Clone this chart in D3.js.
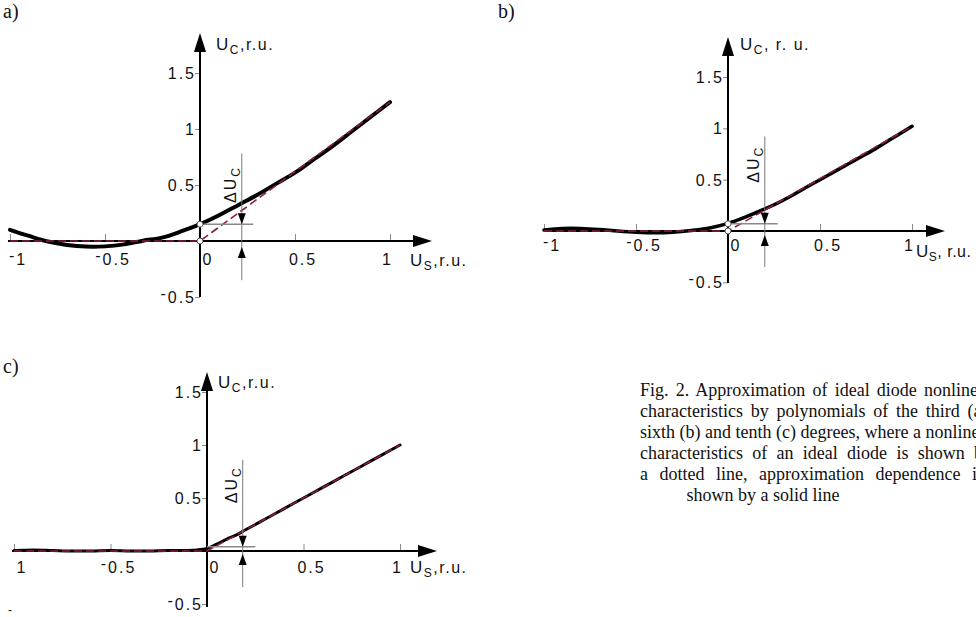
<!DOCTYPE html>
<html>
<head>
<meta charset="utf-8">
<script src="https://cdn.jsdelivr.net/npm/d3@7.9.0/dist/d3.min.js"></script>
<style>
  html, body { margin: 0; padding: 0; background: #fff; overflow: hidden; }
  svg { display: block; }
  .lbl { font-family: Arial, "Liberation Sans", sans-serif; font-size: 16px; letter-spacing: 2px; fill: #111; }
  .panel-name, .caption { font-family: "Times New Roman", "Liberation Serif", serif; fill: #111; }
</style>
</head>
<body>
<svg id="fig" width="976" height="617"></svg>
<script>
// ticks shared by the three panels
const xTicks = [-1, -0.5, 0, 0.5, 1];
const yTicks = [-0.5, 0.5, 1, 1.5];
const yTickLabels = ['-0.5', '0.5', '1', '1.5'];
const xTickLabelsAB = ['-1', '-0.5', '0', '0.5', '1'];
const xTickLabelsC = ['1', '-0.5', '0', '0.5', '1'];

// ideal diode characteristic (dashed line)
const idealUsA = [-1, 0, 1];
const idealUcA = [0, 0, 1.24];
const idealUsB = [-1, 0, 1];
const idealUcB = [0, 0, 1.02];
const idealUsC = [-1, 0, 1];
const idealUcC = [0, 0, 1];

// a) third degree polynomial
const usA = [-1, -0.9, -0.8, -0.7, -0.6, -0.5, -0.4, -0.3, -0.2, -0.1, 0, 0.1, 0.2, 0.3, 0.4, 0.5, 0.6, 0.7, 0.8, 0.9, 1];
const ucA = [0.1, 0.045, -0.005, -0.035, -0.05, -0.048, -0.03, 0.003, 0.03, 0.085, 0.15, 0.23, 0.32, 0.41, 0.51, 0.61, 0.73, 0.85, 0.98, 1.11, 1.24];

// b) sixth degree polynomial
const usB = [-1, -0.9, -0.8, -0.7, -0.6, -0.5, -0.4, -0.3, -0.2, -0.1, 0, 0.1, 0.2, 0.3, 0.4, 0.5, 0.6, 0.7, 0.8, 0.9, 1];
const ucB = [0.01, 0.025, 0.025, 0.015, 0, -0.012, -0.018, -0.012, 0.005, 0.03, 0.075, 0.14, 0.215, 0.3, 0.4, 0.5, 0.6, 0.7, 0.8, 0.91, 1.02];

// c) tenth degree polynomial
const usC = [-1, -0.9, -0.8, -0.7, -0.6, -0.5, -0.4, -0.3, -0.2, -0.1, -0.05, 0, 0.05, 0.1, 0.15, 0.2, 0.3, 0.4, 0.5, 0.6, 0.7, 0.8, 0.9, 1];
const ucC = [0.005, 0.01, 0.005, 0, 0, 0.005, 0, 0, 0.005, 0.005, 0.01, 0.025, 0.065, 0.11, 0.15, 0.2, 0.3, 0.4, 0.5, 0.6, 0.7, 0.8, 0.9, 1];

const captionLines = [
  'Fig. 2. Approximation of ideal diode nonlinear',
  'characteristics by polynomials of the third (a),',
  'sixth (b) and tenth (c) degrees, where a nonlinear',
  'characteristics of an ideal diode is shown by',
  'a dotted line, approximation dependence is',
  'shown by a solid line'
];

const svg = d3.select('#fig');
const dashColor = '#8b1f40';
const tickColor = '#8a8a8a';

function writeLabel(sel, str) {
  // the minus sign sits a bit high in the original
  if (str[0] === '-') {
    sel.append('tspan').attr('dy', -4).text('-');
    sel.append('tspan').attr('dy', 4).text(str.slice(1));
  } else {
    sel.text(str);
  }
}

function drawPanel(p) {
  const g = svg.append('g');
  const x = d3.scaleLinear().domain([0, 1]).range(p.xRange);
  const y = d3.scaleLinear().domain([0, 1.5]).range(p.yRange);
  const x0 = x(0), y0 = y(0);

  // tick marks
  const xAxis = g.append('g').attr('transform', `translate(0,${y0})`)
    .call(d3.axisTop(x).tickValues(xTicks.filter(d => d !== 0)).tickSize(7).tickFormat(''));
  const yAxis = g.append('g').attr('transform', `translate(${x0},0)`)
    .call(d3.axisLeft(y).tickValues(yTicks).tickSize(5).tickFormat(''));
  [xAxis, yAxis].forEach(a => {
    a.select('.domain').remove();
    a.selectAll('.tick line').attr('stroke', tickColor).attr('stroke-width', 1);
  });

  // axis lines with arrows
  g.append('line').attr('x1', p.xStart).attr('x2', p.xEnd - 14).attr('y1', y0).attr('y2', y0)
    .attr('stroke', '#000').attr('stroke-width', 2);
  g.append('path').attr('d', `M${p.xEnd},${y0}L${p.xEnd - 19},${y0 - 6}L${p.xEnd - 19},${y0 + 6}Z`).attr('fill', '#000');
  g.append('line').attr('x1', x0).attr('x2', x0).attr('y1', p.yStart).attr('y2', p.yEnd + 14)
    .attr('stroke', '#000').attr('stroke-width', 2);
  g.append('path').attr('d', `M${x0},${p.yEnd}L${x0 - 6},${p.yEnd + 19}L${x0 + 6},${p.yEnd + 19}Z`).attr('fill', '#000');

  // tick labels
  p.xLabels.forEach((t, i) => {
    const v = xTicks[i];
    const txt = g.append('text').attr('class', 'lbl')
      .attr('x', v === 1 ? x(v) + 3 : x(v) + 8)
      .attr('y', y0 + p.xLabelDy)
      .attr('text-anchor', v === 1 ? 'end' : 'middle');
    writeLabel(txt, t);
  });
  yTickLabels.forEach((t, i) => {
    const txt = g.append('text').attr('class', 'lbl')
      .attr('x', x0 - 4).attr('y', y(yTicks[i]) + 6)
      .attr('text-anchor', 'end');
    writeLabel(txt, t);
  });

  // axis titles
  const yt = g.append('text').attr('class', 'lbl').attr('x', p.yTitle[0]).attr('y', p.yTitle[1]).style('letter-spacing', '1.5px');
  yt.append('tspan').text('U').style('font-size', '17px');
  yt.append('tspan').text('C').attr('dy', 4).style('font-size', '12px');
  yt.append('tspan').text(p.yTail).attr('dy', -4);
  const xt = g.append('text').attr('class', 'lbl').attr('x', p.xTitle[0]).attr('y', p.xTitle[1]).style('letter-spacing', p.xTitleSpacing);
  xt.append('tspan').text('U').style('font-size', '17px');
  xt.append('tspan').text('S').attr('dy', 4).style('font-size', '12px');
  xt.append('tspan').text(p.xTail).attr('dy', -4);

  // panel name
  g.append('text').attr('class', 'panel-name').attr('x', p.name[0]).attr('y', p.name[1])
    .style('font-size', '20px').text(p.name[2]);

  // curves
  const smooth = d3.line().x(d => x(d[0])).y(d => y(d[1])).curve(d3.curveCatmullRom);
  const straight = d3.line().x(d => x(d[0])).y(d => y(d[1]));
  g.append('path').attr('d', smooth(d3.zip(p.us, p.uc)))
    .attr('fill', 'none').attr('stroke', '#000').attr('stroke-width', p.width)
    .attr('stroke-linecap', 'round').attr('stroke-linejoin', 'round');
  g.append('path').attr('d', straight(d3.zip(p.idealUs, p.idealUc)))
    .attr('fill', 'none').attr('stroke', dashColor).attr('stroke-width', 1.6)
    .attr('stroke-dasharray', '8,4');

  // delta U_C annotation
  const a = p.annot;
  const ax = x(a.at);
  g.append('line').attr('x1', ax).attr('x2', ax).attr('y1', y(a.top)).attr('y2', y(a.bottom))
    .attr('stroke', '#7a7a7a').attr('stroke-width', 1);
  g.append('line').attr('x1', x0).attr('x2', x(a.hEnd)).attr('y1', y(a.level)).attr('y2', y(a.level))
    .attr('stroke', '#8a8a8a').attr('stroke-width', 1.5);
  const ty = y(a.level);
  g.append('path').attr('d', `M${ax},${ty}L${ax - 4},${ty - 11}L${ax + 4},${ty - 11}Z`).attr('fill', '#000');
  const by = y0 + a.upGap;
  g.append('path').attr('d', `M${ax},${by}L${ax - 4},${by + 11}L${ax + 4},${by + 11}Z`).attr('fill', '#000');
  const dl = g.append('text').attr('class', 'lbl')
    .attr('transform', `translate(${ax - 6},${y(a.labelAt)}) rotate(-90)`);
  dl.append('tspan').text('\u0394U').style('font-size', '16px');
  dl.append('tspan').text('C').attr('dy', 4).style('font-size', '12px');

  // small circles on the y axis
  if (p.dots) {
    g.selectAll('circle.dot').data(p.dots).join('circle')
      .attr('cx', x0).attr('cy', d => y(d)).attr('r', 3)
      .attr('fill', '#fff').attr('stroke', '#333').attr('stroke-width', 0.8);
  }
}

drawPanel({
  xRange: [200, 390], yRange: [241, 73],
  xStart: 8, xEnd: 432, yStart: 297, yEnd: 33,
  xLabels: xTickLabelsAB, xLabelDy: 24,
  yTitle: [216, 50], yTail: ',r.u.',
  xTitle: [410, 266], xTail: ',r.u.', xTitleSpacing: '1.5px',
  name: [3, 18, 'a)'],
  us: usA, uc: ucA, idealUs: idealUsA, idealUc: idealUcA, width: 4,
  annot: { at: 0.22, top: 0.78, bottom: -0.35, level: 0.15, hEnd: 0.28, upGap: 6, labelAt: 0.34 },
  dots: [0, 0.15]
});

drawPanel({
  xRange: [728, 912], yRange: [231, 77],
  xStart: 545, xEnd: 945, yStart: 283, yEnd: 37,
  xLabels: xTickLabelsAB, xLabelDy: 20,
  yTitle: [740, 50], yTail: ', r. u.',
  xTitle: [916, 257], xTail: ', r.u.', xTitleSpacing: '0.5px',
  name: [498, 18, 'b)'],
  us: usB, uc: ucB, idealUs: idealUsB, idealUc: idealUcB, width: 3.5,
  annot: { at: 0.2, top: 0.92, bottom: -0.35, level: 0.07, hEnd: 0.27, upGap: 4, labelAt: 0.47 },
  dots: [0, 0.07]
});

drawPanel({
  xRange: [207, 400], yRange: [551, 392],
  xStart: 12, xEnd: 437, yStart: 607, yEnd: 372,
  xLabels: xTickLabelsC, xLabelDy: 22,
  yTitle: [218, 388], yTail: ',r.u.',
  xTitle: [410, 573], xTail: ',r.u.', xTitleSpacing: '1.5px',
  name: [3, 373, 'c)'],
  us: usC, uc: ucC, idealUs: idealUsC, idealUc: idealUcC, width: 3,
  annot: { at: 0.185, top: 0.86, bottom: -0.34, level: 0.04, hEnd: 0.25, upGap: 3, labelAt: 0.45 },
  dots: null
});

// stray dash at the bottom left
svg.append('text').attr('class', 'lbl').attr('x', 8).attr('y', 614).style('font-size', '12px').text('-');

// caption, justified to a right edge that lies beyond the page
const capLeft = 640;
const capRights = [992, 992, 992, 992, 984];
captionLines.forEach((line, i) => {
  const t = svg.append('text').attr('class', 'caption')
    .attr('y', 396 + i * 21).style('font-size', '18px').text(line);
  if (i === captionLines.length - 1) {
    t.attr('x', 763).attr('text-anchor', 'middle');
  } else {
    t.attr('x', capLeft);
    const w = t.node().getComputedTextLength();
    const gaps = line.split(' ').length - 1;
    t.attr('word-spacing', Math.max(0, (capRights[i] - capLeft - w) / gaps));
  }
});
</script>
</body>
</html>
